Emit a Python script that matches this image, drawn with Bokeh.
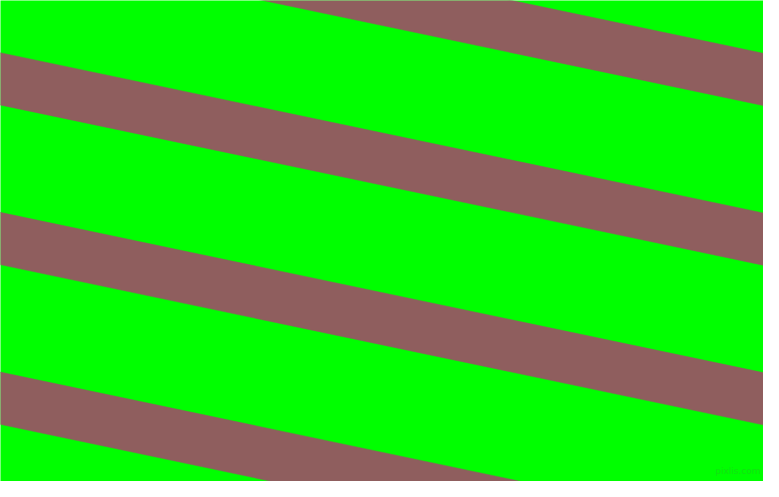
import math
from bokeh.plotting import figure
from bokeh.models import Range1d
from bokeh.embed import file_html
from bokeh.resources import INLINE
from bokeh.core.properties import value

# Pattern values (reference pixel coordinates)
canvas_w = 779
canvas_h = 497
stripe_top_at_left = [-111, 54, 219, 384]   # y of each stripe's upper edge at x = 0
stripe_thickness = 54                        # vertical thickness of a stripe
stripe_angle_deg = 12                        # stripes fall 12 degrees to the right
background_color = "#00FF00"
stripe_color = "#8F5E5E"
watermark = "pixlis.com"

slope = math.tan(math.radians(stripe_angle_deg))
xs, ys = [], []
for t in stripe_top_at_left:
    xs.append([-5, canvas_w + 5, canvas_w + 5, -5])
    ys.append([t - 5 * slope, t + slope * (canvas_w + 5),
               t + stripe_thickness + slope * (canvas_w + 5), t + stripe_thickness - 5 * slope])

margin = 8
p = figure(width=canvas_w - 2 * margin, height=canvas_h - 2 * margin,
           x_range=Range1d(0, canvas_w),
           y_range=Range1d(canvas_h, 0),
           output_backend="svg", toolbar_location=None,
           min_border=0, background_fill_color=background_color,
           border_fill_color=background_color, outline_line_color=None)
p.axis.visible = False
p.grid.visible = False

p.patches(xs, ys, fill_color=stripe_color, line_color=stripe_color, line_width=0.5)

p.text(x=[776], y=[486], text=[watermark], text_align="right", text_baseline="middle",
       text_font=value("DejaVu Sans"), text_font_size="9px", text_color="#1FCC1F", text_alpha=0.6)

open("out.html", "w").write(file_html(p, INLINE))
